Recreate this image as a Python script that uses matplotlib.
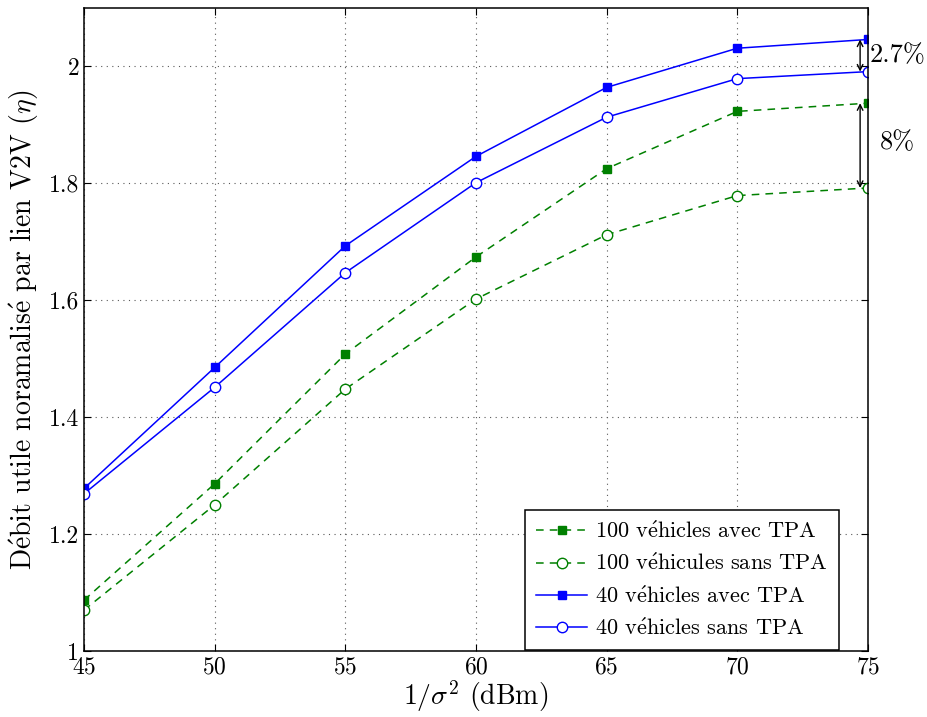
import matplotlib
matplotlib.use('Agg')
import matplotlib.pyplot as plt

plt.rcParams['font.family'] = ['cmr10', 'DejaVu Serif']
plt.rcParams['mathtext.fontset'] = 'cm'
plt.rcParams['axes.formatter.use_mathtext'] = True
plt.rcParams['axes.unicode_minus'] = False

E = r'$\mathrm{\acute{e}}$'  # cmr10 has no é glyph

snr = [45, 50, 55, 60, 65, 70, 75]
v100_avec = [1.087, 1.286, 1.508, 1.674, 1.825, 1.923, 1.937]
v100_sans = [1.070, 1.250, 1.448, 1.602, 1.712, 1.779, 1.792]
v40_avec = [1.278, 1.485, 1.693, 1.846, 1.964, 2.031, 2.046]
v40_sans = [1.269, 1.451, 1.647, 1.801, 1.913, 1.979, 1.991]

green = (0, 0.5, 0)
blue = (0, 0, 1)

fig = plt.figure(figsize=(9.27, 7.17), dpi=100)
ax = fig.add_axes([0.0906, 0.092, 0.8457, 0.897])

ax.plot(snr, v100_avec, '--s', color=green, ms=6, lw=1.1, dashes=(5, 4),
        label='100 v' + E + 'hicles avec TPA')
ax.plot(snr, v100_sans, '--o', color=green, mfc='white', ms=7.5, lw=1.1,
        dashes=(5, 4), label='100 v' + E + 'hicules sans TPA')
ax.plot(snr, v40_avec, '-s', color=blue, ms=6, lw=1.1,
        label='40 v' + E + 'hicles avec TPA')
ax.plot(snr, v40_sans, '-o', color=blue, mfc='white', ms=7.5, lw=1.1,
        label='40 v' + E + 'hicles sans TPA')

# gap annotations at the last point
xa = 74.7
ax.annotate('', xy=(xa, v40_sans[-1]), xytext=(xa, v40_avec[-1]),
            arrowprops=dict(arrowstyle='<->', color='black', lw=1,
                            shrinkA=0, shrinkB=0))
ax.annotate('', xy=(xa, v100_sans[-1]), xytext=(xa, v100_avec[-1]),
            arrowprops=dict(arrowstyle='<->', color='black', lw=1,
                            shrinkA=0, shrinkB=0))
ax.text(75.05, (v40_avec[-1] + v40_sans[-1]) / 2, '2.7%', fontsize=19,
        va='center', ha='left', clip_on=False)
ax.text(75.45, (v100_avec[-1] + v100_sans[-1]) / 2 + 0.005, '8%', fontsize=19,
        va='center', ha='left', clip_on=False)

ax.set_xlim(45, 75)
ax.set_ylim(1, 2.1)
ax.set_xticks(snr)
ax.set_yticks([1, 1.2, 1.4, 1.6, 1.8, 2])
ax.set_yticklabels(['1', '1.2', '1.4', '1.6', '1.8', '2'])
ax.tick_params(direction='in', labelsize=17, length=5, top=True, right=True)
ax.grid(True, linestyle=(0, (1, 4)), color='0.35', lw=0.8)
for s in ax.spines.values():
    s.set_linewidth(1.1)

ax.set_xlabel(r'$1/\sigma^2$ (dBm)', fontsize=20, labelpad=0)
ax.set_ylabel('D' + E + 'bit utile noramalis' + E + r' par lien V2V ($\eta$)',
              fontsize=20, labelpad=6)

leg = ax.legend(loc='lower right', bbox_to_anchor=(0.963, 0.002),
                fontsize=16, fancybox=False, edgecolor='black',
                framealpha=1, borderaxespad=0, handlelength=2.3,
                handletextpad=0.35, labelspacing=0.5, borderpad=0.5)
leg.get_frame().set_linewidth(1.1)

plt.savefig('out.png', dpi=100)
